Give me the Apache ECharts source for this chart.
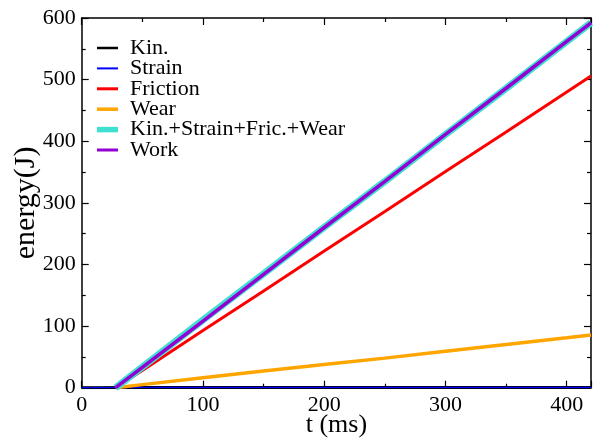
<!DOCTYPE html>
<html>
<head>
<meta charset="utf-8">
<script src="https://cdn.jsdelivr.net/npm/echarts@6/dist/echarts.min.js"></script>
<style>
  html, body { margin: 0; padding: 0; background: #fff; }
  #chart { width: 597px; height: 439px; }
</style>
</head>
<body>
<div id="chart"></div>
<script>
// Time samples (ms)
const tKinStrain = [0, 50, 100, 150, 200, 250, 300, 350, 400, 420];
const kin        = [0, 0.2, 0.3, 0.3, 0.3, 0.3, 0.3, 0.3, 0.3, 0.3];
const strain     = [0, 0.4, 0.5, 0.5, 0.5, 0.5, 0.5, 0.5, 0.5, 0.5];

const t        = [28, 50, 100, 150, 200, 250, 300, 350, 400, 420];
const friction = [0, 28, 93, 157, 222, 286, 351, 415, 480, 506];
const wear     = [0, 5, 16, 27, 37.5, 48, 59, 70, 81, 85.5];
const work     = [0, 33, 108, 184, 260, 335, 411, 486, 562, 592];

// Kin./Strain at the same times as friction/wear
const kinAtT    = [0, 0.2, 0.3, 0.3, 0.3, 0.3, 0.3, 0.3, 0.3, 0.3];
const strainAtT = [0, 0.4, 0.5, 0.5, 0.5, 0.5, 0.5, 0.5, 0.5, 0.5];
const total = t.map((_, i) => kinAtT[i] + strainAtT[i] + friction[i] + wear[i]);

const xTicks = [0, 100, 200, 300, 400];
const yTicks = [0, 100, 200, 300, 400, 500, 600];

const pairs = (xs, ys) => xs.map((x, i) => [x, ys[i]]);

const FONT = '"Liberation Serif", "DejaVu Serif", serif';

// Legend swatch: a horizontal bar of given thickness inside a 28x20 box,
// drawn over the first 21 px so the text sits a little further right.
function swatch(th) {
  const y0 = 10 - th / 2, y1 = 10 + th / 2;
  return 'path://M0,0M28,20M0,' + y0 + 'H21V' + y1 + 'H0Z';
}

const chart = echarts.init(document.getElementById('chart'), null, { renderer: 'canvas' });

function axisCommon() {
  return {
    axisLine: { show: true, onZero: false, lineStyle: { color: '#000', width: 1.5 } },
    axisTick: { show: true, inside: true, length: 7, lineStyle: { color: '#000', width: 1.2 } },
    minorTick: { show: true, splitNumber: 2, length: 4, lineStyle: { color: '#000', width: 1.2 } },
    splitLine: { show: false },
    axisLabel: { show: false }
  };
}

function lineSeries(name, data, color, width, z) {
  return {
    name, type: 'line', data, symbol: 'none', showSymbol: false,
    lineStyle: { color, width }, itemStyle: { color },
    z, animation: false, silent: true
  };
}

const labelStyle = { show: true, color: '#000', fontFamily: FONT, fontSize: 22 };

chart.setOption({
  animation: false,
  backgroundColor: '#fff',
  grid: { left: 81.7, right: 6, top: 18, bottom: 51.3, containLabel: false, outerBoundsMode: 'none' },
  legend: {
    orient: 'vertical', left: 97, top: 37, padding: 0, itemGap: -1.6,
    itemWidth: 28, itemHeight: 20, symbolKeepAspect: false,
    textStyle: { fontFamily: FONT, fontSize: 22, color: '#000', lineHeight: 20 },
    data: [
      { name: 'Kin.', icon: swatch(2.5), itemStyle: { color: '#000000' } },
      { name: 'Strain', icon: swatch(2), itemStyle: { color: '#0000ff' } },
      { name: 'Friction', icon: swatch(3), itemStyle: { color: '#ff0000' } },
      { name: 'Wear', icon: swatch(3.5), itemStyle: { color: '#ffa500' } },
      { name: 'Kin.+Strain+Fric.+Wear', icon: swatch(5.5), itemStyle: { color: '#40e0d0' } },
      { name: 'Work', icon: swatch(3), itemStyle: { color: '#9400d3' } }
    ]
  },
  xAxis: [
    Object.assign({
      type: 'value', min: 0, max: 420, interval: 100, position: 'bottom',
      name: 't (ms)', nameLocation: 'middle', nameGap: 24, nameMoveOverlap: false,
      nameTextStyle: { fontFamily: FONT, fontSize: 26, color: '#000' }
    }, axisCommon(), {
      axisLabel: Object.assign({ margin: 7, formatter: v => (xTicks.includes(v) ? String(v) : '') }, labelStyle)
    }),
    Object.assign({ type: 'value', min: 0, max: 420, interval: 100, position: 'top' }, axisCommon())
  ],
  yAxis: [
    Object.assign({
      type: 'value', min: 0, max: 600, interval: 100, position: 'left',
      name: 'energy(J)', nameLocation: 'middle', nameGap: 41, nameMoveOverlap: false,
      nameTextStyle: { fontFamily: FONT, fontSize: 30, color: '#000' }
    }, axisCommon(), {
      axisLabel: Object.assign({ margin: 6, formatter: v => (yTicks.includes(v) ? String(v) : '') }, labelStyle)
    }),
    Object.assign({ type: 'value', min: 0, max: 600, interval: 100, position: 'right' }, axisCommon())
  ],
  series: [
    lineSeries('Kin.', pairs(tKinStrain, kin), '#000000', 3, 2),
    lineSeries('Strain', pairs(tKinStrain, strain), '#0000ff', 1.5, 3),
    lineSeries('Friction', pairs(t, friction), '#ff0000', 3, 4),
    lineSeries('Wear', pairs(t, wear), '#ffa500', 3.5, 5),
    lineSeries('Kin.+Strain+Fric.+Wear', pairs(t, total), '#40e0d0', 7, 6),
    lineSeries('Work', pairs(t, work), '#9400d3', 3.5, 7)
  ]
});
</script>
</body>
</html>
